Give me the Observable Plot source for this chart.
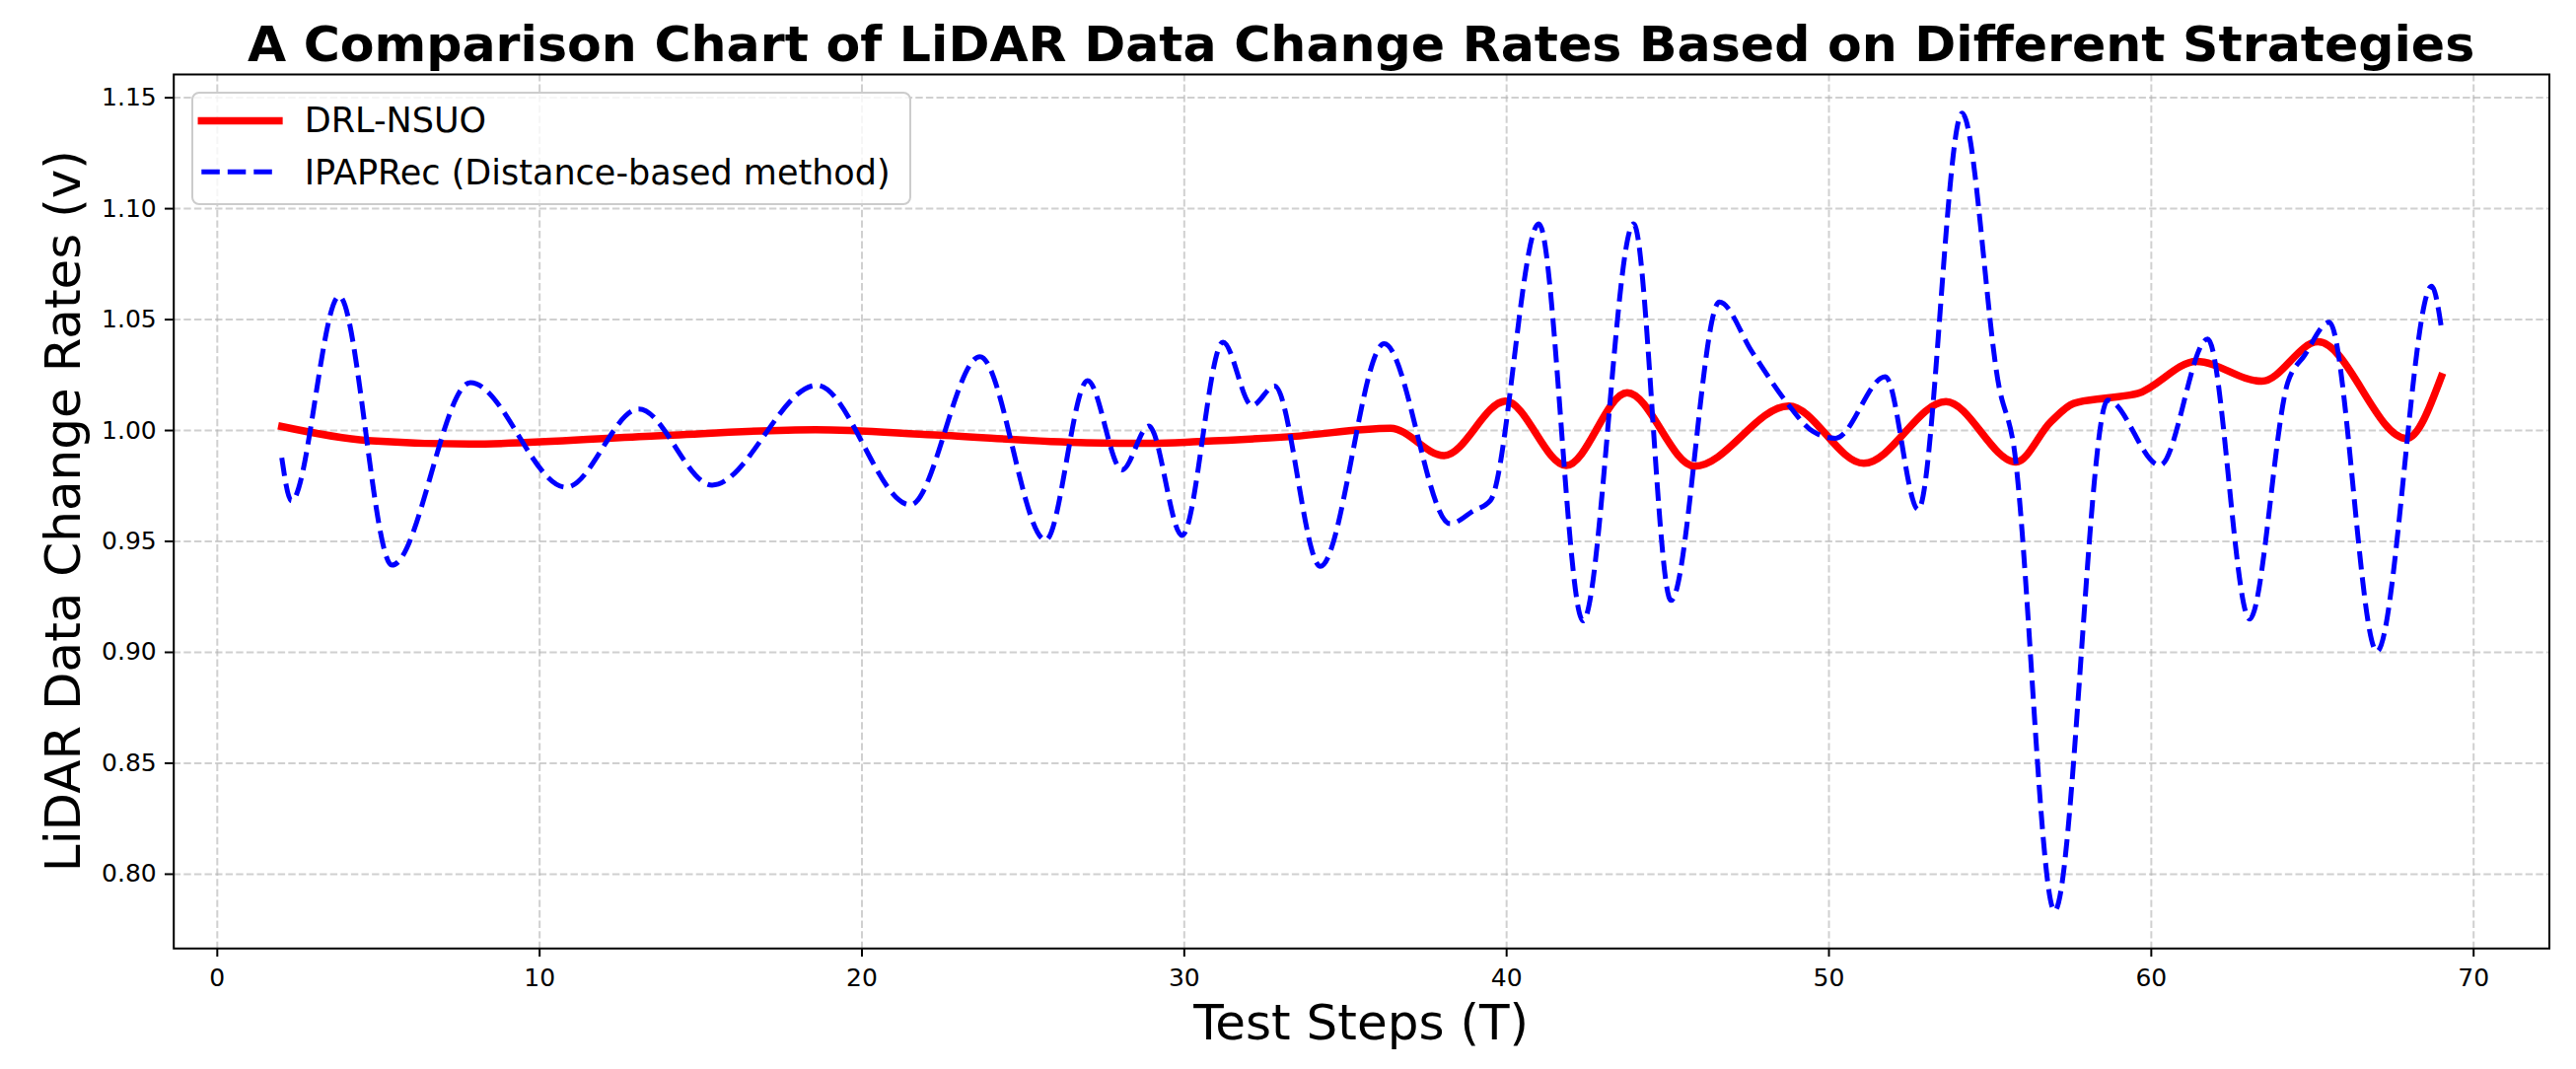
<!DOCTYPE html>
<html><head><meta charset="utf-8">
<script src="https://cdn.jsdelivr.net/npm/d3@7"></script>
<script src="https://cdn.jsdelivr.net/npm/@observablehq/plot@0.6"></script>
<style>
html,body{margin:0;padding:0;background:#fff;}
body{width:2612px;height:1084px;position:relative;overflow:hidden;font-family:"DejaVu Sans",sans-serif;}
#title{position:absolute;z-index:3;left:175.7px;width:2408.8px;top:19.5px;text-align:center;font-weight:bold;font-size:50.6px;line-height:1;white-space:nowrap;color:#000;}
#chart{position:absolute;z-index:1;left:0;top:60px;}
#legend{position:absolute;z-index:2;left:194px;top:93.3px;width:729.7px;height:115px;box-sizing:border-box;border:2.5px solid #cccccc;border-radius:8px;background:rgba(255,255,255,0.8);}
#legend svg{position:absolute;left:0;top:0;overflow:visible;}
</style></head><body>
<div id="title">A Comparison Chart of LiDAR Data Change Rates Based on Different Strategies</div>
<div id="chart"></div>
<div id="legend"></div>
<script>
// ---- data ----
const seriesNames = ["DRL-NSUO", "IPAPRec (Distance-based method)"];
const xLabel = "Test Steps (T)";
const yLabel = "LiDAR Data Change Rates (v)";
const xTicks = [0, 10, 20, 30, 40, 50, 60, 70];
const yTicks = [0.80, 0.85, 0.90, 0.95, 1.00, 1.05, 1.10, 1.15];

const drlSteps = [2.0, 4.66, 7.83, 13.46, 18.56, 22.25, 26.97, 29.0, 30.44, 33.36, 36.4, 38.06, 39.97, 41.85, 43.74, 45.83, 48.75, 51.08, 53.63, 55.8, 56.89, 57.59, 58.65, 59.59, 61.4, 63.43, 65.17, 67.92, 69.0];
const drlRates = [1.0018, 0.9955, 0.9939, 0.9975, 1.0004, 0.998, 0.9945, 0.9942, 0.9950, 0.9973, 1.001, 0.9887, 1.0132, 0.9842, 1.017, 0.9839, 1.011, 0.9852, 1.013, 0.9858, 1.004, 1.0122, 1.0147, 1.0167, 1.0311, 1.0222, 1.040, 0.9964, 1.0243];

const ipaSteps = [2.0, 2.3, 3.78, 5.42, 7.85, 10.82, 13.08, 15.35, 18.6, 21.5, 23.66, 25.7, 27.0, 28.07, 28.9, 29.93, 31.2, 32.1, 32.8, 34.22, 36.2, 38.25, 38.97, 39.5, 41.0, 42.37, 43.94, 45.1, 46.6, 47.62, 48.67, 49.5, 50.2, 51.75, 52.77, 54.13, 55.3, 55.7, 57.0, 58.65, 60.27, 61.75, 63.05, 64.24, 64.75, 65.52, 67.0, 68.7, 69.0];
const ipaRates = [0.9877, 0.9683, 1.0605, 0.9393, 1.0216, 0.9744, 1.0097, 0.9754, 1.0204, 0.9665, 1.0333, 0.9506, 1.0225, 0.9822, 1.0020, 0.9527, 1.0398, 1.0113, 1.0200, 0.9388, 1.0391, 0.9580, 0.9638, 0.9685, 1.0932, 0.9142, 1.0931, 0.9234, 1.0579, 1.0353, 1.013, 0.9996, 0.9965, 1.0243, 0.9644, 1.1430, 1.018, 0.996, 0.7835, 1.0137, 0.9843, 1.0412, 0.9150, 1.0219, 1.0338, 1.0488, 0.9004, 1.0650, 1.0464];

const drl = drlSteps.map((t, i) => ({step: t, rate: drlRates[i]}));
const ipa = ipaSteps.map((t, i) => ({step: t, rate: ipaRates[i]}));

const FONT = '"DejaVu Sans", sans-serif';
const RED = "#ff0000", BLUE = "#0000ff";
const gridStyle = {stroke: "#b0b0b0", strokeOpacity: 0.6, strokeWidth: 2, strokeDasharray: "7.4,3.2"};

const plot = Plot.plot({
  width: 2612, height: 1024,
  marginTop: 15, marginBottom: 122.7, marginLeft: 175.7, marginRight: 27.5,
  style: {fontFamily: FONT, background: "transparent", overflow: "visible", color: "black"},
  x: {domain: [-1.35, 72.35]},
  y: {domain: [0.7665, 1.1605]},
  marks: [
    Plot.gridX(xTicks, gridStyle),
    Plot.gridY(yTicks, gridStyle),
    Plot.line(drl, {x: "step", y: "rate", stroke: RED, strokeWidth: 7.5, curve: "monotone-x", strokeLinecap: "square", strokeLinejoin: "round"}),
    Plot.line(ipa, {x: "step", y: "rate", stroke: BLUE, strokeWidth: 5, strokeDasharray: "18.5,8", curve: "monotone-x", strokeLinecap: "butt", strokeLinejoin: "round"}),
    Plot.frame({stroke: "black", strokeWidth: 2}),
    Plot.axisX(xTicks, {tickSize: 8.75, tickPadding: 12, fontSize: 25, strokeWidth: 2, label: null, tickFormat: d3.format("d")}),
    Plot.axisY(yTicks, {tickSize: 8.75, tickPadding: 8.75, fontSize: 25, strokeWidth: 2, label: null, tickFormat: d3.format(".2f")})
  ]
});
document.getElementById("chart").appendChild(plot);

// axis labels
const sx = plot.scale("x"), sy = plot.scale("y");
const xMid = (sx.range[0] + sx.range[1]) / 2;
const yMid = (sy.range[0] + sy.range[1]) / 2;
const svg = d3.select(plot);
svg.append("text")
  .attr("x", xMid).attr("y", 994)
  .attr("text-anchor", "middle").attr("font-size", 50).attr("font-family", FONT).attr("fill", "black")
  .text(xLabel);
svg.append("text")
  .attr("transform", `translate(81,${yMid}) rotate(-90)`)
  .attr("text-anchor", "middle").attr("font-size", 50).attr("font-family", FONT).attr("fill", "black")
  .text(yLabel);

// legend
const lg = d3.select("#legend").append("svg").attr("width", 725).attr("height", 110);
lg.append("line").attr("x1", 8.3).attr("x2", 86.9).attr("y1", 27.5).attr("y2", 27.5)
  .attr("stroke", RED).attr("stroke-width", 7.5).attr("stroke-linecap", "square");
lg.append("line").attr("x1", 8.3).attr("x2", 86.9).attr("y1", 79.2).attr("y2", 79.2)
  .attr("stroke", BLUE).attr("stroke-width", 5).attr("stroke-dasharray", "18.5,8");
lg.append("text").attr("x", 112.8).attr("y", 39.2).attr("font-size", 35).attr("font-family", FONT).attr("fill", "black").text(seriesNames[0]);
lg.append("text").attr("x", 112.8).attr("y", 92).attr("font-size", 35).attr("font-family", FONT).attr("fill", "black").text(seriesNames[1]);
</script></body></html>
